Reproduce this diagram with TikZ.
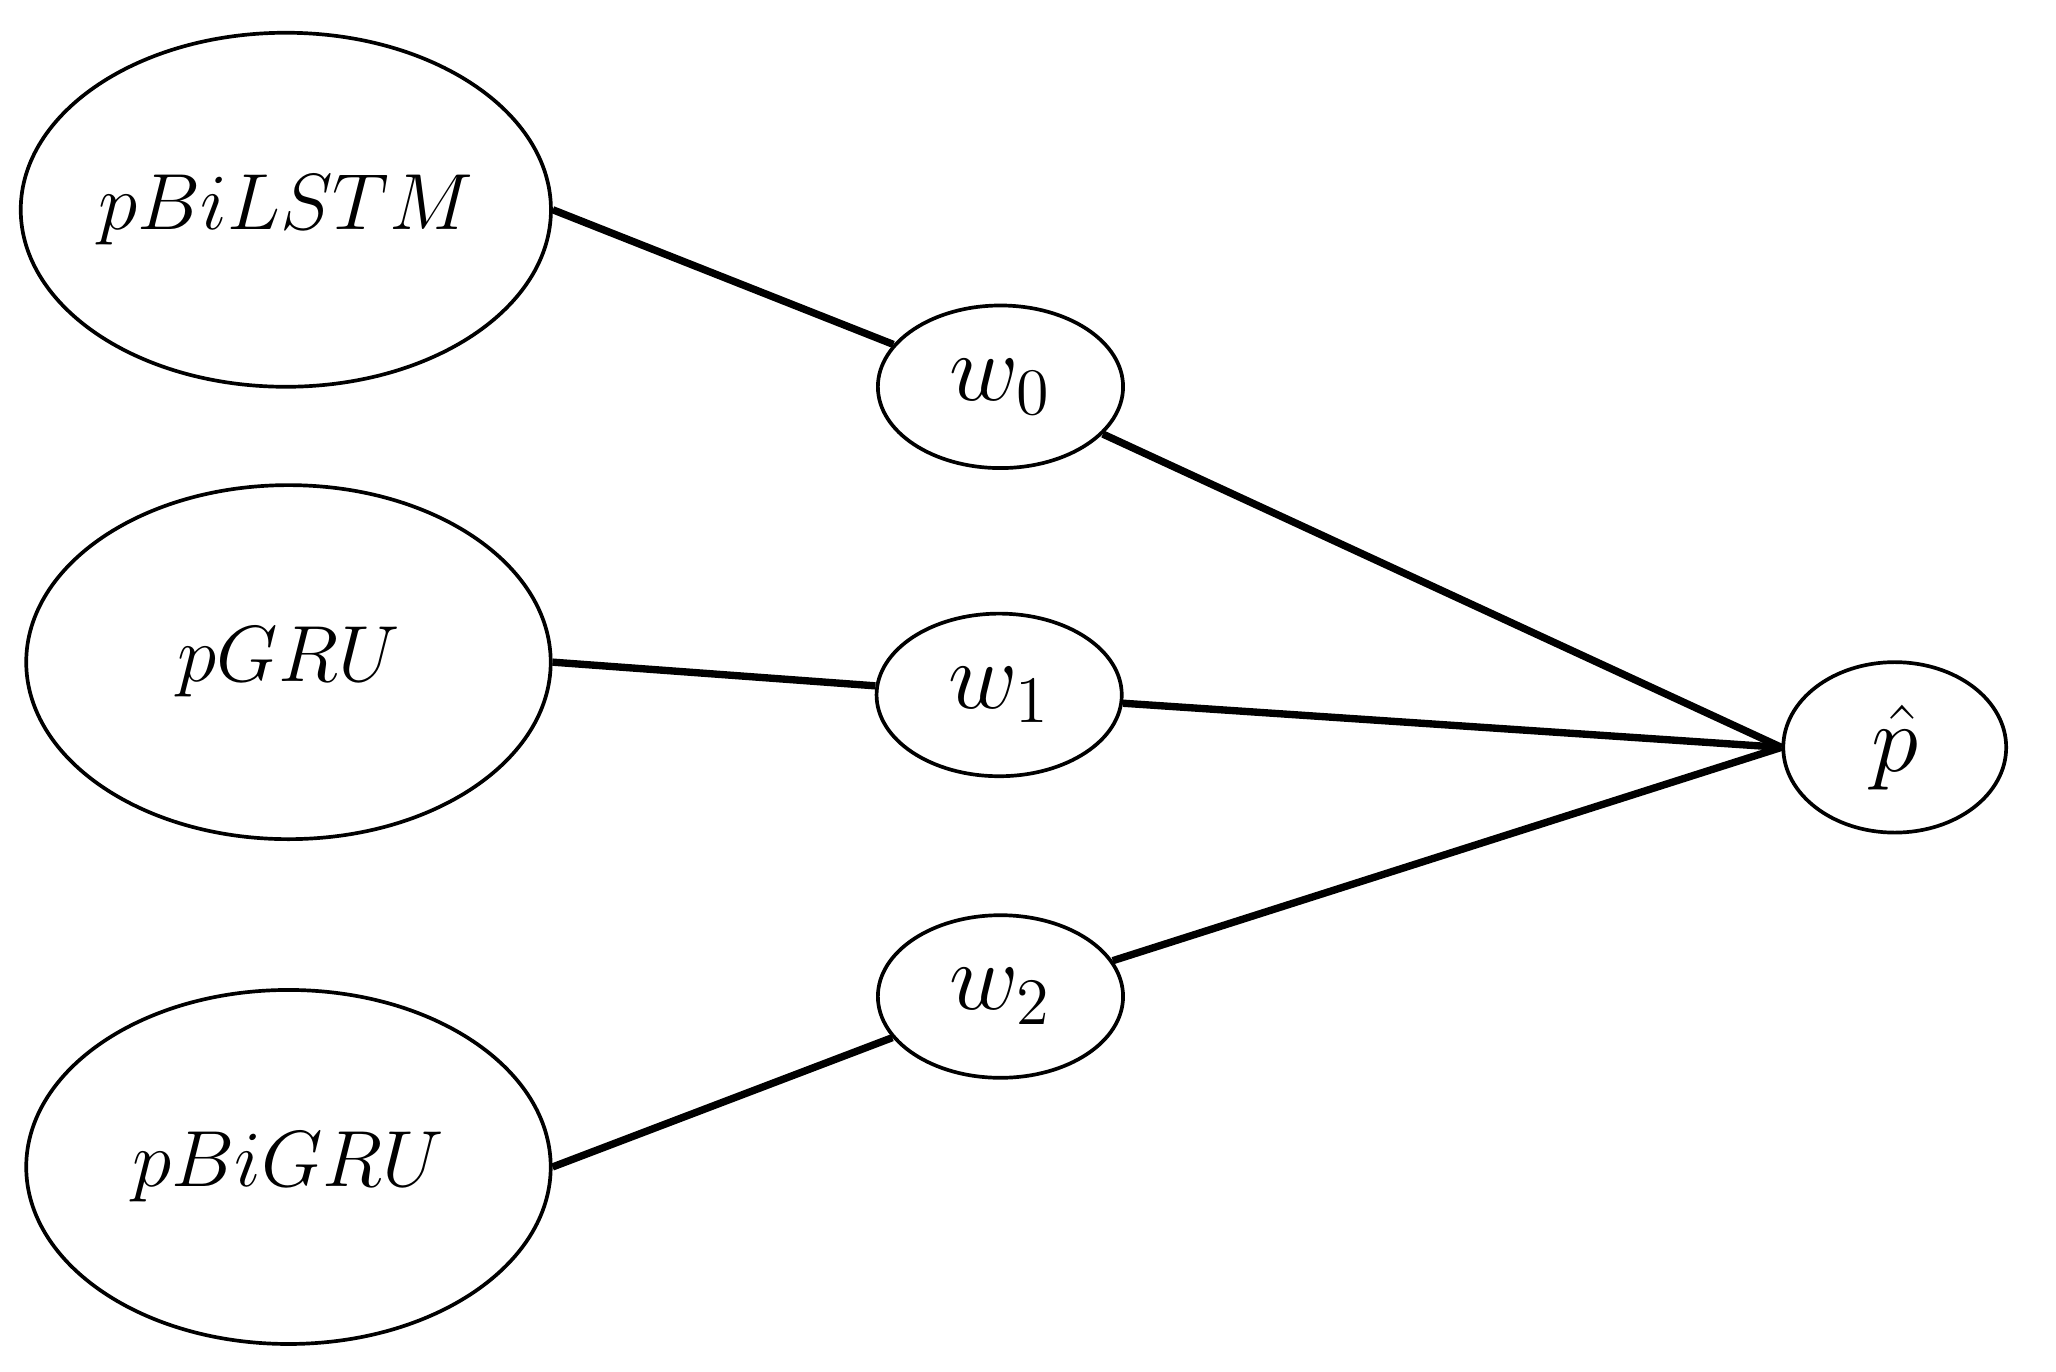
\documentclass[tikz,border=0pt]{standalone}
\usepackage{amsmath}
\usepackage{tikz}
\usetikzlibrary{shapes.geometric}

\begin{document}
\begin{tikzpicture}[
  every node/.style={font=\fontsize{17.28}{21}\selectfont},
  model/.style={ellipse,draw,line width=0.8pt,minimum width=4cm,minimum height=2.7cm,inner sep=0pt},
  weight/.style={ellipse,draw,line width=0.8pt,minimum width=1.87cm,minimum height=1.24cm,inner sep=0pt,
    font=\fontsize{20.74}{24}\selectfont},
  link/.style={line width=1.6pt}]
  \useasboundingbox (0,0) rectangle (15.68,10.46);
  % base models on the left
  \node[model] (lstm) at (2.18,8.86) {$pBiLSTM$};
  \node[model] (gru) at (2.2,5.41) {$pGRU$};
  \node[model] (bigru) at (2.2,1.56) {$pBiGRU$};
  % ensemble weights
  \node[weight] (w0) at (7.63,7.51) {$w_0$};
  \node[weight] (w1) at (7.62,5.16) {$w_1$};
  \node[weight] (w2) at (7.63,2.86) {$w_2$};
  % combined output
  \node[weight,minimum width=1.7cm,minimum height=1.3cm] (phat) at (14.45,4.76) {$\hat{p}$};
  \foreach \m/\w in {lstm/w0, gru/w1, bigru/w2}
    \draw[link] (\m.east) -- (\w);
  \foreach \w in {w0,w1,w2}
    \draw[link] (\w) -- (phat.west);
\end{tikzpicture}
\end{document}
